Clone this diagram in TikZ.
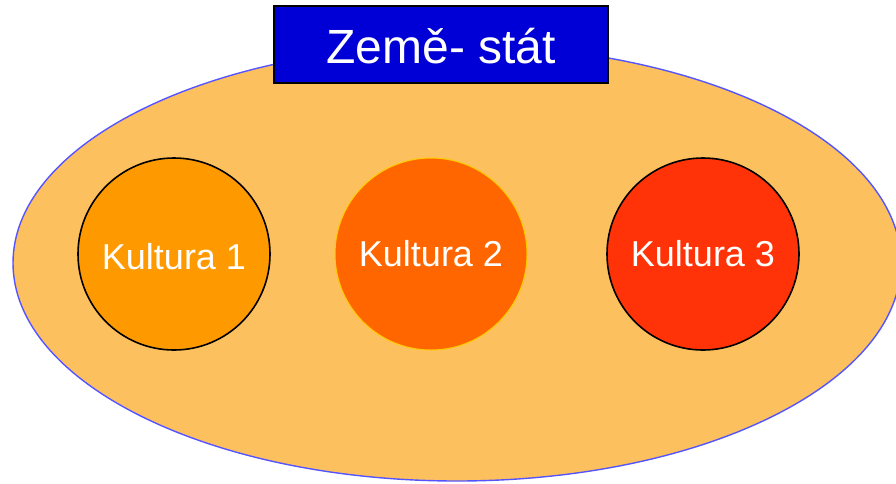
\documentclass[tikz,border=0pt]{standalone}
\usepackage{fontspec}
\setmainfont{Liberation Sans}
\definecolor{statefill}{RGB}{253,192,94}
\definecolor{stateline}{RGB}{85,85,255}
\definecolor{kone}{RGB}{255,153,0}
\definecolor{ktwo}{RGB}{255,102,0}
\definecolor{ktwoline}{RGB}{255,204,0}
\definecolor{kthree}{RGB}{255,51,7}
\definecolor{titlefill}{RGB}{0,0,214}
\tikzset{
  culture/.style={circle, minimum size=192pt, inner sep=0pt, line width=1.6pt, draw=black},
  culturelabel/.style={text=white, font=\fontsize{36}{36}\selectfont, inner sep=0pt},
  titlebox/.style={draw=black, line width=1.4pt, fill=titlefill, minimum width=334pt, minimum height=77pt, inner sep=0pt},
}
\begin{document}
\begin{tikzpicture}[x=1pt,y=-1pt]
\useasboundingbox (0,0) rectangle (896,483);
\clip (0,0) rectangle (896,483);
\draw[fill=statefill, draw=stateline, line width=1.4pt] (457,263) ellipse [x radius=444, y radius=218];
\node[culture, fill=kone] (k1) at (174,254) {};
\node[culturelabel] (k1text) at ([yshift=-3pt]k1.center) {Kultura 1};
\node[culture, fill=ktwo, draw=ktwoline, line width=1pt] (k2) at (431,254) {};
\node[culturelabel] (k2text) at (k2.center) {Kultura 2};
\node[culture, fill=kthree] (k3) at (703,254) {};
\node[culturelabel] (k3text) at (k3.center) {Kultura 3};
\node[titlebox] (title) at (441,44.5) {};
\node[text=white, font=\fontsize{48}{48}\selectfont, inner sep=0pt, anchor=base] (titletext) at (441,63) {Země- stát};
\end{tikzpicture}
\end{document}
